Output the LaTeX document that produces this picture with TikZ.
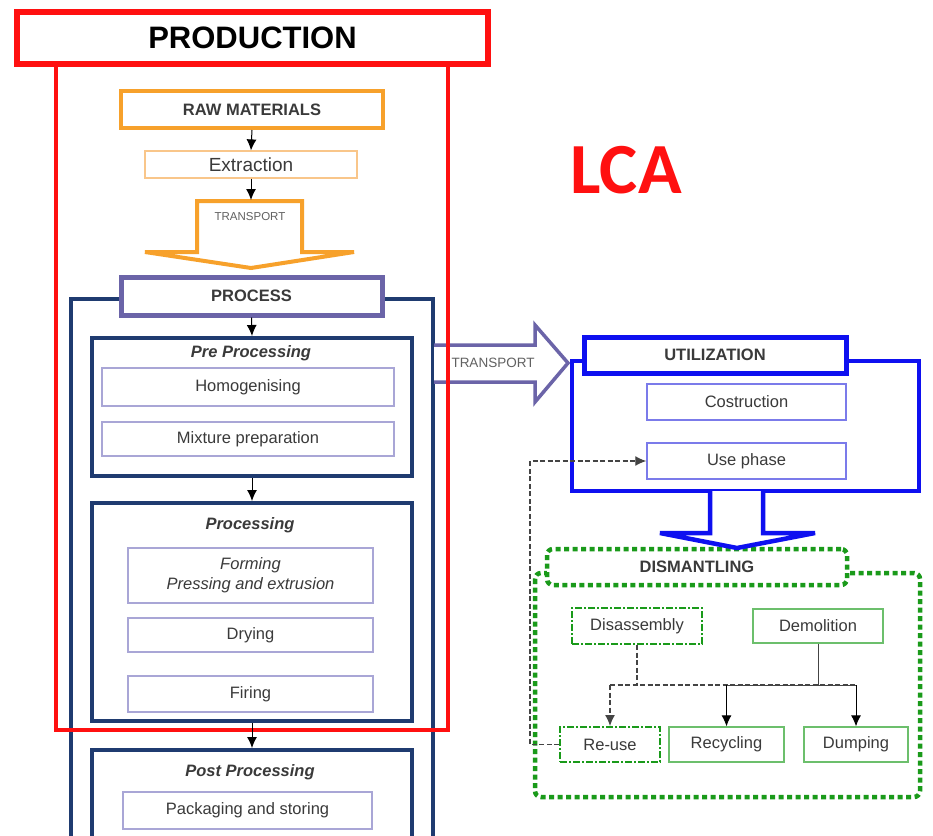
\documentclass[tikz,border=0pt]{standalone}
\usepackage{fontspec}
\setmainfont{Liberation Sans}
\newfontfamily\lcafont{Carlito}
\usetikzlibrary{arrows.meta}
\definecolor{myred}{HTML}{FF1010}
\definecolor{myorange}{HTML}{F7A12B}
\definecolor{lightorange}{HTML}{F9C68A}
\definecolor{navy}{HTML}{1F3B70}
\definecolor{purp}{HTML}{6B64A8}
\definecolor{lav}{HTML}{A9A6D6}
\definecolor{myblue}{HTML}{0E10F0}
\definecolor{lblue}{HTML}{7B7BEA}
\definecolor{mygreen}{HTML}{1A9A1A}
\definecolor{lgreen}{HTML}{6CBF6C}
\definecolor{txt}{HTML}{3A3A3A}
\definecolor{conn}{HTML}{444444}
\tikzset{
  box/.style={draw, rectangle, inner sep=0pt, align=center, text=txt, fill=white},
  fs/.style={font=\fontsize{16.5}{19}\selectfont},
  fb/.style={font=\fontsize{16.5}{19}\selectfont\bfseries},
  fbi/.style={font=\fontsize{16.5}{19}\selectfont\bfseries\itshape},
  tip/.style={-{Latex[length=11pt,width=10pt]}},
  arr/.style={tip, line width=1pt, draw=black},
  dotgreen/.style={draw=mygreen, line width=4.5pt, dash pattern=on 5pt off 3.5pt, rounded corners=6pt},
  dashgreen/.style={draw=mygreen, line width=2pt, dash pattern=on 7pt off 2pt on 2pt off 2pt},
  conndash/.style={draw=conn, line width=1.2pt, dash pattern=on 5pt off 2.5pt}
}
\begin{document}
\begin{tikzpicture}[x=1pt,y=-1pt]
\useasboundingbox (0,0) rectangle (933,835);
\clip (0,0) rectangle (933,835);
\fill[white] (0,0) rectangle (933,835);

% ---------- PROCESS group ----------
\draw[navy, line width=3.5pt] (71,900) -- (71,299) -- (433,299) -- (433,900);
\node[box, draw=purp, line width=5pt, minimum width=261pt, minimum height=38pt, fb] (proclbl) at (251.5,296) {PROCESS};

\node[box, draw=navy, line width=4pt, minimum width=320pt, minimum height=138pt] (prepro) at (252,407) {};
\node[fbi, text=txt] (pretitle) at (251,353) {Pre Processing};
\node[box, draw=lav, line width=1.2pt, minimum width=292pt, minimum height=38pt, fs] (homog) at (248,387) {Homogenising};
\node[box, draw=lav, line width=1.2pt, minimum width=292pt, minimum height=34pt, fs] (mix) at (248,439) {Mixture preparation};

\node[box, draw=navy, line width=4pt, minimum width=320pt, minimum height=218pt] (proc) at (252,612) {};
\node[fbi, text=txt] (proctitle) at (250,525) {Processing};
\node[box, draw=lav, line width=1.2pt, minimum width=245pt, minimum height=55pt, font=\fontsize{16.5}{20}\selectfont\itshape] (form) at (250.5,575.5) {Forming\\Pressing and extrusion};
\node[box, draw=lav, line width=1.2pt, minimum width=245pt, minimum height=34pt, fs] (dry) at (250.5,635) {Drying};
\node[box, draw=lav, line width=1.2pt, minimum width=245pt, minimum height=36pt, fs] (fire) at (250.5,694) {Firing};

\node[box, draw=navy, line width=4pt, minimum width=320pt, minimum height=150pt] (post) at (252,825) {};
\node[fbi, text=txt] (posttitle) at (250,772) {Post Processing};
\node[box, draw=lav, line width=1.2pt, minimum width=249pt, minimum height=37pt, fs] (pack) at (247.5,810.5) {Packaging and storing};

% ---------- horizontal TRANSPORT arrow ----------
\draw[purp, line width=3.5pt, fill=white, line join=miter]
  (434,345) -- (535,345) -- (535,325) -- (568,363) -- (535,402) -- (535,382) -- (434,382);
\node[text=txt!80, font=\fontsize{13.5}{15}\selectfont] (tr2) at (493,363) {TRANSPORT};

% ---------- PRODUCTION frame ----------
\draw[myred, line width=4pt] (56,64) -- (56,730) -- (448,730) -- (448,64);
\node[box, draw=myred, line width=6pt, minimum width=471pt, minimum height=52pt, text=black, font=\fontsize{31}{34}\selectfont\bfseries] (prodhdr) at (252.5,38) {PRODUCTION};

\node[box, draw=myorange, line width=4pt, minimum width=262pt, minimum height=37pt, fb] (raw) at (252,109.5) {RAW MATERIALS};
\node[box, draw=lightorange, line width=1.2pt, minimum width=212pt, minimum height=27pt, font=\fontsize{19}{21}\selectfont] (ext) at (251,164.5) {Extraction};
\coordinate (trtop) at (251,200);
\draw[myorange, line width=4pt, fill=white, line join=miter]
  (197,201) -- (302,201) -- (302,252) -- (354,252) -- (251,268) -- (145,252) -- (197,252) -- cycle;
\node[text=txt!80, font=\fontsize{11.5}{13}\selectfont] (tr1) at (250,217) {TRANSPORT};

\draw[arr] (raw.south) -- (ext.north);
\draw[arr] (ext.south) -- (trtop);
\draw[arr] (proclbl.south) -- (prepro.north);
\draw[arr] (prepro.south) -- (proc.north);
\draw[arr] (proc.south) -- (post.north);

% ---------- UTILIZATION ----------
\draw[myblue, line width=4.5pt] (572,361) rectangle (919,491);
\node[box, draw=myblue, line width=5pt, minimum width=262pt, minimum height=36pt, fb] (util) at (715,355) {UTILIZATION};
\node[box, draw=lblue, line width=1.5pt, minimum width=199pt, minimum height=36pt, fs] (costr) at (746.5,402) {Costruction};
\node[box, draw=lblue, line width=1.5pt, minimum width=199pt, minimum height=36pt, fs] (use) at (746.5,461) {Use phase};

% ---------- DISMANTLING ----------
\draw[dotgreen] (535,573) rectangle (920,797);
\node[box, dotgreen, minimum width=300pt, minimum height=36pt, fb] (dislbl) at (697,567) {DISMANTLING};

\draw[myblue, line width=4.5pt, fill=white, line join=miter]
  (710,491) -- (710,533) -- (660,533) -- (737,548) -- (815,533) -- (763,533) -- (763,491);

\node[box, dashgreen, minimum width=130pt, minimum height=36pt, fs] (disasm) at (637,626) {Disassembly};
\node[box, draw=lgreen, line width=1.3pt, minimum width=130pt, minimum height=34pt, fs] (demol) at (818,626) {Demolition};
\node[box, dashgreen, minimum width=100pt, minimum height=35pt, fs] (reuse) at (610,744.5) {Re-use};
\node[box, draw=lgreen, line width=1.3pt, minimum width=115pt, minimum height=35pt, fs] (recyc) at (726.5,744.5) {Recycling};
\node[box, draw=lgreen, line width=1.3pt, minimum width=104pt, minimum height=35pt, fs] (dump) at (856,744.5) {Dumping};

\coordinate (hL) at (610,685);
\coordinate (hD) at (637,685);
\coordinate (hM) at (818,685);
\coordinate (hC) at (726.5,685);
\coordinate (hR) at (856,685);
\draw[conndash] (disasm.south) -- (hD);
\draw[conndash] (hL) -- (hR);
\draw[conndash, tip] (hL) -- (reuse.north);
\draw[line width=1pt, draw=conn] (demol.south) -- (hM);
\draw[line width=1pt, draw=conn] (hC) -- (hR);
\draw[arr] (hC) -- (recyc.north);
\draw[arr] (hR) -- (dump.north);

\coordinate (fb) at (530,744.5);
\draw[conndash, tip] (reuse.west) -- (fb) |- (use.west);

% ---------- LCA ----------
\node[text=myred, font=\fontsize{72}{74}\lcafont\bfseries] (lca) at (626,170) {LCA};
\end{tikzpicture}
\end{document}
